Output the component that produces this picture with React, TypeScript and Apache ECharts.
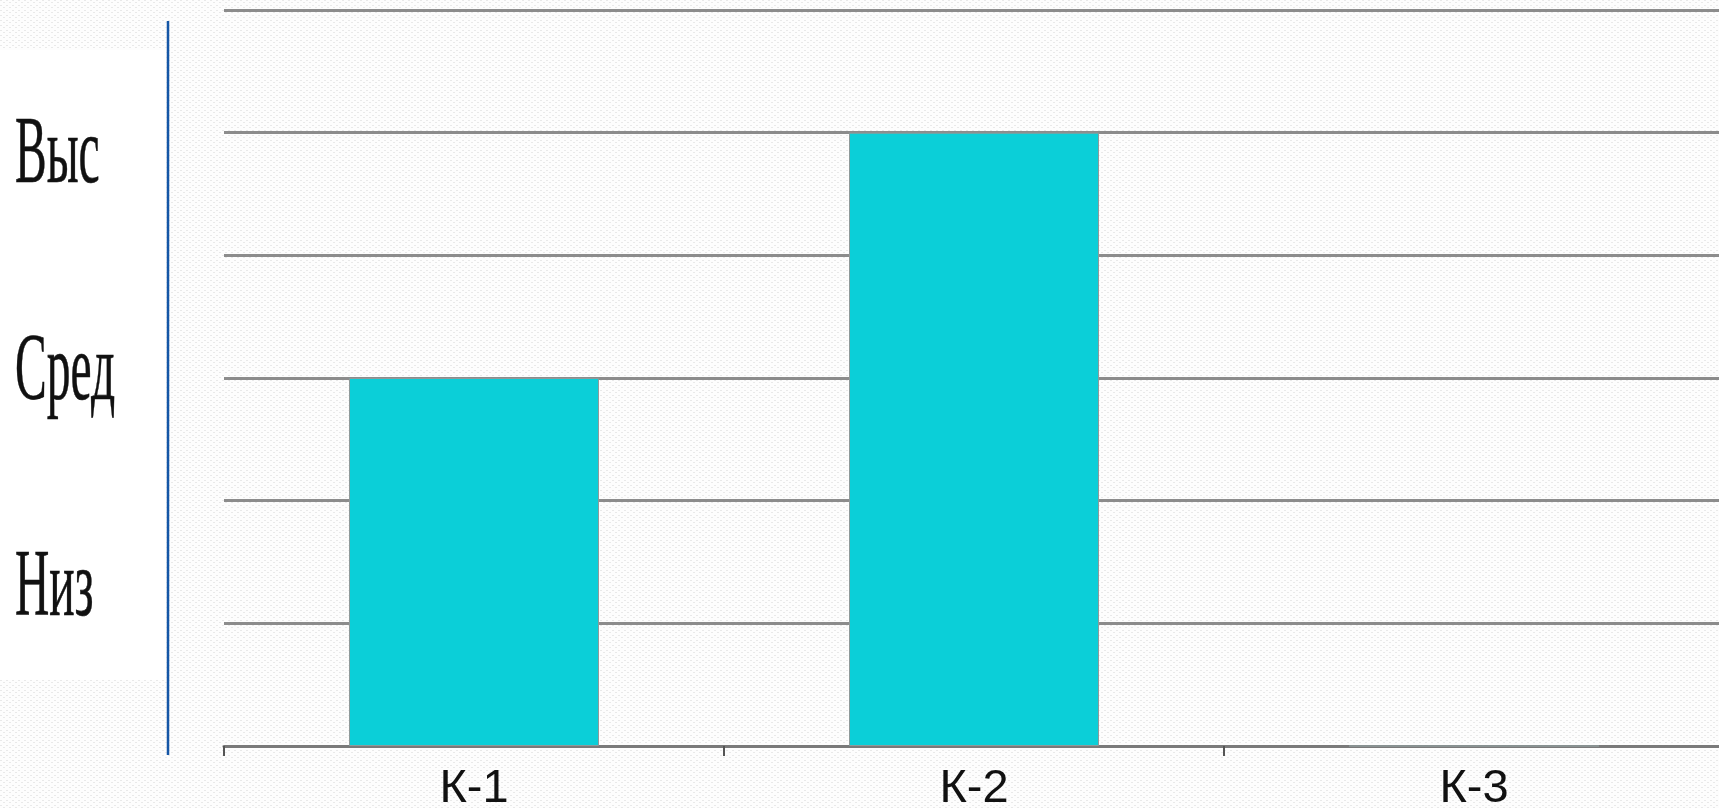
import React, { useEffect, useRef } from "react";
import * as echarts from "echarts";

const categories: string[] = ["К-1", "К-2", "К-3"];
const levels: number[] = [3, 5, 0];
const levelLabels: string[] = ["Выс", "Сред", "Низ"];
const levelLabelY: number[] = [150, 367, 583];
const yMin = 0;
const yMax = 6;
const yInterval = 1;

function makePattern(): string {
  const c = document.createElement("canvas");
  c.width = 6;
  c.height = 5;
  const ctx = c.getContext("2d");
  if (!ctx) return "";
  ctx.fillStyle = "#fdfdfd";
  ctx.fillRect(0, 0, 6, 5);
  ctx.fillStyle = "#e9e9e9";
  ctx.fillRect(0, 0, 2, 1);
  ctx.fillRect(3, 2, 2, 1);
  return c.toDataURL();
}

export default function App() {
  const ref = useRef<HTMLDivElement>(null);
  useEffect(() => {
    if (!ref.current) return;
    const chart = echarts.init(ref.current, null, { renderer: "svg" });
    const pattern = makePattern();
    chart.setOption({
      animation: false,
      backgroundColor: pattern ? { image: pattern, repeat: "repeat" } : "#f7f7f7",
      grid: {
        left: 224,
        right: -5,
        top: 10,
        bottom: 62,
        containLabel: false,
        outerBoundsMode: "none",
      },
      xAxis: {
        type: "category",
        data: categories,
        boundaryGap: true,
        axisLine: { show: true, lineStyle: { color: "#7a7a7a", width: 3 } },
        axisTick: { show: true, length: 10, lineStyle: { color: "#555", width: 2 } },
        axisLabel: {
          fontSize: 47,
          lineHeight: 30,
          color: "#111",
          fontFamily: "Liberation Sans, Arial, sans-serif",
          margin: 24,
        },
        splitLine: { show: false },
      },
      yAxis: {
        type: "value",
        min: yMin,
        max: yMax,
        interval: yInterval,
        axisLine: { show: false },
        axisTick: { show: false },
        axisLabel: { show: false },
        splitLine: { show: true, lineStyle: { color: "#8c8c8c", width: 3 } },
      },
      series: [
        {
          type: "bar",
          data: levels,
          barWidth: "50%",
          itemStyle: { color: "#0BCFD8", borderColor: "#8f9a9a", borderWidth: 1 },
          z: 3,
        },
      ],
      graphic: [
        {
          type: "rect",
          shape: { x: 0, y: 50, width: 166, height: 630 },
          style: { fill: "#ffffff" },
          silent: true,
          z: -1,
        },
        {
          type: "line",
          shape: { x1: 168, y1: 21, x2: 168, y2: 755 },
          style: { stroke: "#1456a6", lineWidth: 2.5 },
          silent: true,
        },
        ...levelLabels.map((t, i) => ({
          type: "text",
          x: 15,
          y: levelLabelY[i],
          scaleX: 0.5,
          style: {
            text: t,
            x: 0,
            y: 0,
            fontSize: 95,
            fontFamily: "Liberation Serif, Times New Roman, serif",
            fill: "#111",
            stroke: "#111",
            lineWidth: 0.6,
            verticalAlign: "middle",
            align: "left",
          },
          silent: true,
        })),
      ],
    });
    return () => chart.dispose();
  }, []);
  return (
    <div
      ref={ref}
      style={{ position: "fixed", left: 0, top: 0, width: 1719, height: 808 }}
    />
  );
}
